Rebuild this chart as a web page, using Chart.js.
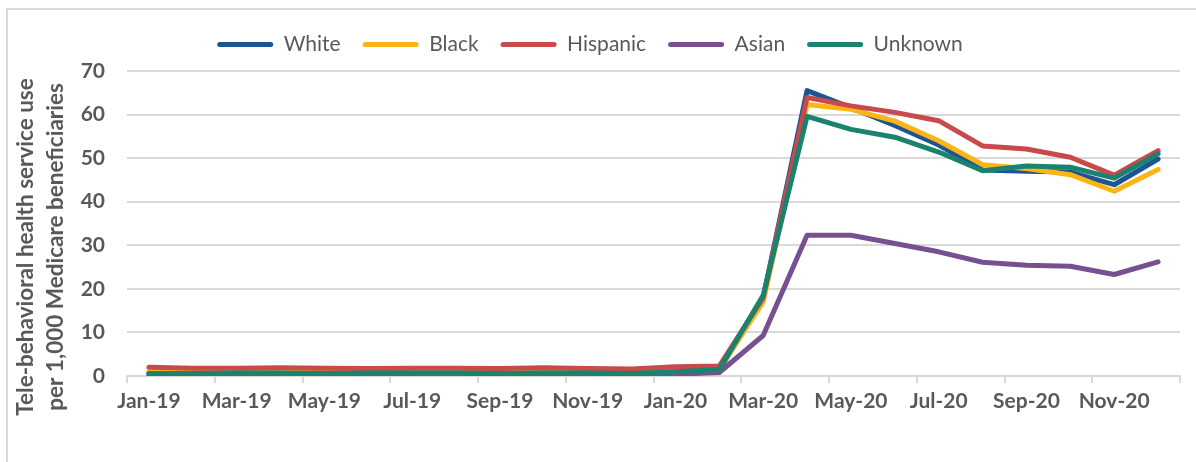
<!DOCTYPE html>
<html>
<head>
<meta charset="utf-8">
<script src="https://cdn.jsdelivr.net/npm/chart.js@4/dist/chart.umd.min.js"></script>
<style>
    body { margin: 0; background: #fff; }
    #wrap { position: relative; width: 1196px; height: 462px; }
    #frame { position: absolute; left: 6px; top: 8px; right: -4px; bottom: -4px; border: 2px solid #d9d9d9; }
</style>
</head>
<body>
<div id="wrap">
    <div id="frame"></div>
    <canvas id="teleChart"></canvas>
</div>
<script>
// Tele-behavioral health use per 1,000 Medicare beneficiaries, by race/ethnicity
const months = ['Jan-19', 'Feb-19', 'Mar-19', 'Apr-19', 'May-19', 'Jun-19', 'Jul-19', 'Aug-19', 'Sep-19', 'Oct-19', 'Nov-19', 'Dec-19',
    'Jan-20', 'Feb-20', 'Mar-20', 'Apr-20', 'May-20', 'Jun-20', 'Jul-20', 'Aug-20', 'Sep-20', 'Oct-20', 'Nov-20', 'Dec-20'];

const white = [0.7, 0.7, 0.7, 0.8, 0.7, 0.7, 0.8, 0.8, 0.7, 0.8, 0.8, 0.7, 0.9, 1.3, 18.0, 65.5, 61.6, 57.5, 53.0, 47.3, 47.0, 46.8, 43.9, 49.8];
const black = [0.9, 0.9, 0.9, 1.0, 0.9, 0.9, 1.0, 1.0, 0.9, 1.0, 1.0, 0.9, 1.1, 1.5, 17.0, 62.3, 61.2, 58.5, 54.0, 48.5, 47.6, 46.2, 42.4, 47.4];
const hispanic = [2.0, 1.8, 1.8, 1.9, 1.8, 1.7, 1.8, 1.8, 1.7, 1.9, 1.7, 1.6, 2.1, 2.3, 18.0, 63.9, 62.0, 60.5, 58.6, 52.8, 52.1, 50.2, 46.1, 51.7];
const asian = [0.3, 0.3, 0.3, 0.3, 0.3, 0.3, 0.3, 0.3, 0.3, 0.3, 0.3, 0.2, 0.4, 0.8, 9.3, 32.3, 32.3, 30.4, 28.5, 26.1, 25.4, 25.2, 23.3, 26.2];
const unknown = [0.6, 0.6, 0.7, 0.7, 0.6, 0.7, 0.7, 0.7, 0.6, 0.7, 0.7, 0.6, 1.0, 1.5, 18.5, 59.6, 56.6, 54.8, 51.4, 47.1, 48.2, 47.9, 45.4, 51.0];

const seriesNames = ['White', 'Black', 'Hispanic', 'Asian', 'Unknown'];
const yTicks = [0, 10, 20, 30, 40, 50, 60, 70];
const yTitle = ['Tele-behavioral health service use', 'per 1,000 Medicare beneficiaries'];

const colors = ['#1d5494', '#fdb515', '#c94a4a', '#77518f', '#1b8270'];
const textGray = '#595959';
const gridGray = '#d9d9d9';

document.addEventListener('DOMContentLoaded', function () {
    const values = [white, black, hispanic, asian, unknown];

    // Excel draws later series on top, Chart.js draws low "order" on top
    const datasets = seriesNames.map((name, i) => ({
        label: name,
        data: values[i],
        borderColor: colors[i],
        backgroundColor: colors[i],
        borderWidth: 5,
        pointRadius: 0,
        pointHoverRadius: 0,
        tension: 0,
        borderJoinStyle: 'round',
        borderCapStyle: 'round',
        order: seriesNames.length - i
    }));

    // y axis title drawn by hand so it can sit where Excel put it
    const yTitlePlugin = {
        id: 'yTitle',
        afterDraw(chart) {
            const ctx = chart.ctx;
            ctx.save();
            ctx.fillStyle = textGray;
            ctx.font = 'bold 22.5px Lato';
            ctx.textAlign = 'center';
            ctx.textBaseline = 'alphabetic';
            [33, 63].forEach((x, i) => {
                ctx.save();
                ctx.translate(x, 247);
                ctx.rotate(-Math.PI / 2);
                ctx.fillText(yTitle[i], 0, 0);
                ctx.restore();
            });
            ctx.restore();
        }
    };

    // keep the legend band fixed so the plot starts at the 70 line
    const legendHeight = {
        id: 'legendHeight',
        afterInit(chart) {
            const legend = chart.legend;
            const fit = legend.fit.bind(legend);
            legend.fit = function () {
                fit();
                this.height = 59;
            };
        }
    };

    new Chart(document.getElementById('teleChart'), {
        type: 'line',
        data: { labels: months, datasets: datasets },
        plugins: [yTitlePlugin, legendHeight],
        options: {
            responsive: true,
            maintainAspectRatio: false,
            animation: false,
            layout: { padding: { left: 0, right: 16, top: 12, bottom: 0 } },
            plugins: {
                tooltip: { enabled: false },
                legend: {
                    position: 'top',
                    labels: {
                        color: textGray,
                        font: { family: 'Lato', size: 21 },
                        boxWidth: 56,
                        boxHeight: 5,
                        padding: 22,
                        useBorderRadius: true,
                        borderRadius: 2.5,
                        sort: (a, b) => a.datasetIndex - b.datasetIndex,
                        generateLabels: function (chart) {
                            const items = Chart.defaults.plugins.legend.labels.generateLabels(chart);
                            items.forEach(item => { item.lineWidth = 0; });
                            return items;
                        }
                    }
                }
            },
            scales: {
                x: {
                    offset: true,
                    afterFit: scale => { scale.height = 86; },
                    grid: {
                        offset: true,
                        drawOnChartArea: false,
                        drawTicks: true,
                        tickLength: 7,
                        lineWidth: 2,
                        color: ctx => (ctx.index === undefined || ctx.index % 2 === 0) ? gridGray : 'rgba(0,0,0,0)'
                    },
                    border: { display: true, color: gridGray, width: 2 },
                    ticks: {
                        autoSkip: false,
                        maxRotation: 0,
                        minRotation: 0,
                        padding: 6,
                        color: textGray,
                        font: { family: 'Lato', size: 21, weight: 'bold' },
                        callback: (val, i) => i % 2 === 0 ? months[i] : ''
                    }
                },
                y: {
                    min: yTicks[0],
                    max: yTicks[yTicks.length - 1],
                    afterFit: scale => { scale.width = 127; },
                    afterBuildTicks: scale => { scale.ticks = yTicks.map(v => ({ value: v })); },
                    grid: { color: gridGray, lineWidth: 2, drawTicks: false },
                    border: { display: false },
                    ticks: {
                        padding: 22,
                        color: textGray,
                        font: { family: 'Lato', size: 21, weight: 'bold' }
                    }
                }
            }
        }
    });
});
</script>
</body>
</html>
